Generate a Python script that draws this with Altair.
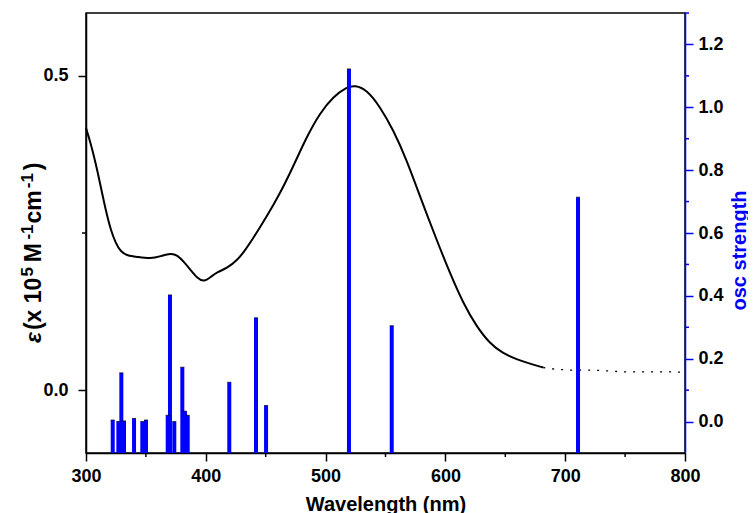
import altair as alt
import pandas as pd

# ---- data ----
wl_curve = [300, 303.9, 308.1, 312.3, 316.4, 320.6, 324.8, 329, 334.5, 342.8, 354, 362.4,
            370.7, 376.2, 381.8, 387.4, 392.9, 398.5, 404.1, 409.6, 417.9, 426.3, 431.9,
            439.7, 450.8, 462, 473, 484.2, 495.3, 506.4, 517.6, 524.5, 534.3, 545.4, 556.5,
            567.7, 578.8, 592.7, 603.8, 614.9, 626.1, 637.2, 648.3, 659.5, 670.6, 681.7]
eps_curve = [0.417, 0.393, 0.361, 0.324, 0.287, 0.255, 0.234, 0.220, 0.214, 0.212, 0.209, 0.213,
             0.218, 0.215, 0.204, 0.191, 0.178, 0.172, 0.180, 0.188, 0.194, 0.207, 0.220,
             0.242, 0.276, 0.313, 0.356, 0.403, 0.441, 0.467, 0.482, 0.485, 0.478, 0.451, 0.414,
             0.366, 0.308, 0.239, 0.186, 0.138, 0.101, 0.074, 0.058, 0.049, 0.042, 0.036]
wl_tail = [681.7, 692.9, 704, 720.7, 731.8, 748.5, 770, 793, 800]
eps_tail = [0.036, 0.033, 0.032, 0.032, 0.031, 0.029, 0.029, 0.029, 0.028]

wl_bars = [322.3, 327.0, 329.5, 331.7, 340.1, 347.0, 350.1, 368.2, 370.1, 373.7, 380.4,
           382.6, 384.9, 419.6, 441.9, 450.3, 519.5, 555.2, 710.7]
osc_bars = [0.005, 0.0, 0.155, 0.002, 0.01, 0.0, 0.005, 0.02, 0.403, 0.0, 0.173,
            0.033, 0.02, 0.125, 0.33, 0.051, 1.122, 0.305, 0.714]

x_ticks = [300, 400, 500, 600, 700, 800]
x_minor = [350, 450, 550, 650, 750]
eps_ticks = [0.0, 0.5]
eps_minor = [0.25]
osc_ticks = [0.0, 0.2, 0.4, 0.6, 0.8, 1.0, 1.2]
osc_minor = [0.1, 0.3, 0.5, 0.7, 0.9, 1.1, 1.3]

# left axis title pieces: (text, is_superscript, italic)
eps_title = [("ε", False, True), ("(x 10", False, False), ("5", True, False), (" M", False, False),
             ("-1", True, False), ("cm", False, False), ("-1", True, False), (")", False, False)]

W, H = 599, 440
FONT = "Liberation Sans"
BLUE = "#0000ff"

df_curve = pd.DataFrame({"wl": wl_curve, "eps": eps_curve})
df_tail = pd.DataFrame({"wl": wl_tail, "eps": eps_tail})
df_bars = pd.DataFrame({"wl": wl_bars, "osc": osc_bars})
df_xminor = pd.DataFrame({"wl": x_minor})
df_epsminor = pd.DataFrame({"eps": eps_minor})
df_oscminor = pd.DataFrame({"osc": osc_minor})
one = pd.DataFrame({"k": [0]})

common_axis = dict(grid=False, labelFont=FONT, titleFont=FONT, labelFontSize=18, titleFontSize=20,
                   labelFontWeight="bold", titleFontWeight="bold", labelColor="black",
                   tickWidth=1.5, domainWidth=1.5)

xenc = alt.X("wl:Q", scale=alt.Scale(domain=[300, 800], nice=False, zero=False, padding=0),
             axis=alt.Axis(values=x_ticks, format="d", title="Wavelength (nm)", tickSize=8,
                           labelPadding=6, titlePadding=9, labelFlush=False,
                           domainColor="black", tickColor="black", titleColor="black",
                           **common_axis))

yL = alt.Y("eps:Q", scale=alt.Scale(domain=[-0.1, 0.6], nice=False, zero=False, padding=0),
           axis=alt.Axis(orient="left", values=eps_ticks, format=".1f", title=None,
                         tickSize=8, labelPadding=10,
                         domainColor="black", tickColor="black",
                         **common_axis))

yR = alt.Y("osc:Q", scale=alt.Scale(domain=[-0.1, 1.3], nice=False, zero=False, padding=0),
           axis=alt.Axis(orient="right", values=osc_ticks, format=".1f",
                         title="osc strength", tickSize=8, labelPadding=5,
                         titleAngle=270, titleX=60, titleY=237, titleAlign="center",
                         titleBaseline="alphabetic",
                         domainColor=BLUE, tickColor=BLUE, titleColor=BLUE,
                         **common_axis))

curve = alt.Chart(df_curve).mark_line(color="black", strokeWidth=2, interpolate="basis").encode(x=xenc, y=yL)
tail = alt.Chart(df_tail).mark_line(color="black", strokeWidth=1.3, strokeDash=[2, 7]).encode(x=xenc, y=yL)
eps_minor_layer = alt.Chart(df_epsminor).mark_rule(color="black", strokeWidth=1.5).encode(
    y=yL, x=alt.value(-4), x2=alt.value(0))
x_minor_layer = alt.Chart(df_xminor).mark_rule(color="black", strokeWidth=1.5).encode(
    x=xenc, y=alt.value(H), y2=alt.value(H + 4))

# left axis title built from pieces so the superscripts are real raised text
MAIN, SUP = 23, 17
adv = {"ε": 0.52, "(": 0.333, "x": 0.556, " ": 0.278, "1": 0.556, "0": 0.556, "5": 0.556,
       "M": 0.833, "-": 0.333, "c": 0.556, "m": 0.889, ")": 0.333}
gaps = [1, 1, 5, -3, 1, 2, 3, 0]
title_layers = []
ypos = 330.0   # start (bottom) of the rotated title, px from plot top
for (txt, sup, ital), gap in zip(eps_title, gaps):
    size = SUP if sup else MAIN
    title_layers.append(
        alt.Chart(one).mark_text(text=txt, angle=270, align="left", baseline="alphabetic",
                                 font=FONT, fontSize=size, fontWeight="bold",
                                 fontStyle="italic" if ital else "normal", color="black")
        .encode(x=alt.value(-53 if sup else -45.5), y=alt.value(ypos)))
    ypos -= sum(adv.get(c, 0.556) for c in txt) * size + gap

bars = alt.Chart(df_bars).mark_bar(color=BLUE, size=4).encode(x=xenc, y=yR, y2=alt.datum(-0.1))
bar_caps = alt.Chart(df_bars).mark_tick(color="black", orient="horizontal", size=4, thickness=1).encode(
    x=xenc, y=yR)
osc_minor_layer = alt.Chart(df_oscminor).mark_rule(color=BLUE, strokeWidth=1.5).encode(
    y=yR, x=alt.value(W), x2=alt.value(W + 4))

left = alt.layer(curve, tail, eps_minor_layer, x_minor_layer, *title_layers)
right = alt.layer(bars, bar_caps, osc_minor_layer)

chart = alt.layer(left, right).resolve_scale(y="independent").properties(
    width=W, height=H,
    autosize=alt.AutoSizeParams(type="none"),
    padding={"left": 78, "top": 5, "right": 63, "bottom": 60},
).configure_view(stroke="black", strokeWidth=1.5)

chart.save("out.html", embed_options={"renderer": "svg", "actions": False})
